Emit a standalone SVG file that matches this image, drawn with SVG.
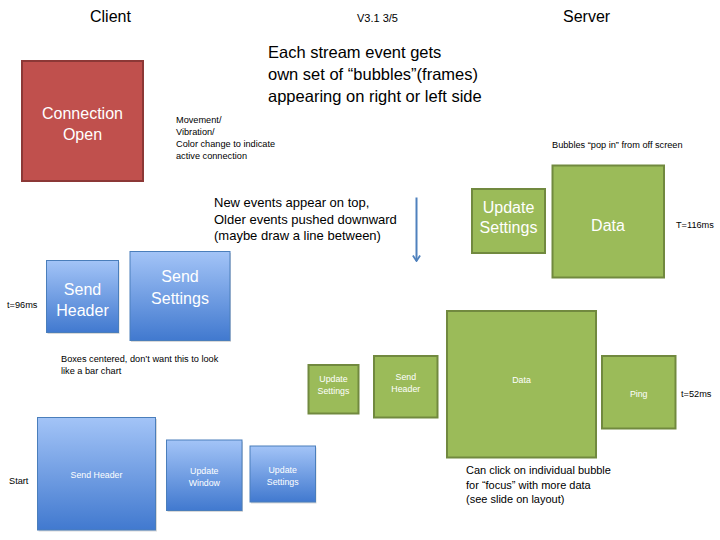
<svg xmlns="http://www.w3.org/2000/svg" width="720" height="540" viewBox="0 0 720 540">
<defs>
<linearGradient id="blueGrad" x1="0" y1="0" x2="0" y2="1">
<stop offset="0" stop-color="#a3c4f7"/>
<stop offset="1" stop-color="#4179cf"/>
</linearGradient>
<marker id="arrowHead" viewBox="0 0 10 10" refX="9" refY="5" markerWidth="9" markerHeight="9" markerUnits="userSpaceOnUse" orient="auto">
<path d="M3,1 L9,5 L3,9" fill="none" stroke="#4f81bd" stroke-width="2"/>
</marker>
</defs>
<style>
text{font-family:"Liberation Sans",Arial,sans-serif;fill:#000}
.title{font-size:16px}
.note{font-size:9.2px}
.mid{font-size:13px}
.mid2{font-size:11px}
.big{font-size:16.5px}
.lbl{font-size:16px;fill:#fff;text-anchor:middle}
.slbl{font-size:8.8px;fill:#fff;text-anchor:middle}
.red{fill:#c0504d;stroke:#8c3836;stroke-width:2}
.green{fill:#9bbb59;stroke:#71893f;stroke-width:2}
.blue{fill:url(#blueGrad);stroke:#4a7ebb;stroke-width:1}
.shadow{fill:#000;opacity:0.15}
.conn{stroke:#4f81bd;stroke-width:2;fill:none}
</style>
<rect width="720" height="540" fill="#fff"/>

<g id="labels">
<text class="title" x="90" y="22">Client</text>
<text x="357" y="22" style="font-size:11px">V3.1 3/5</text>
<text class="title" x="563" y="22">Server</text>
<text class="big" x="268" y="58">Each stream event gets</text>
<text class="big" x="268" y="80">own set of “bubbles”(frames)</text>
<text class="big" x="268" y="101.5">appearing on right or left side</text>
<text class="note" x="176" y="122.5">Movement/</text>
<text class="note" x="176" y="134.5">Vibration/</text>
<text class="note" x="176" y="146.5">Color change to indicate</text>
<text class="note" x="176" y="158.5">active connection</text>
<text class="note" x="552" y="148">Bubbles “pop in” from off screen</text>
<text class="mid" x="214" y="207">New events appear on top,</text>
<text class="mid" x="214" y="223.5">Older events pushed downward</text>
<text class="mid" x="214" y="240">(maybe draw a line between)</text>
<text class="note" x="676" y="228">T=116ms</text>
<text class="note" x="7" y="308">t=96ms</text>
<text class="note" x="61" y="362">Boxes centered, don’t want this to look</text>
<text class="note" x="61" y="374">like a bar chart</text>
<text class="note" x="681" y="397">t=52ms</text>
<text class="mid2" x="466" y="474">Can click on individual bubble</text>
<text class="mid2" x="466" y="488.5">for “focus” with more data</text>
<text class="mid2" x="466" y="503">(see slide on layout)</text>
<text class="note" x="9" y="484">Start</text>
</g>

<g id="connection-open">
<rect class="red" x="22" y="61" width="121" height="120"/>
<text class="lbl" x="82.5" y="118.5">Connection</text>
<text class="lbl" x="82.5" y="139.5">Open</text>
</g>

<g id="srv-update-settings-top">
<rect class="green" x="472" y="189" width="73" height="64"/>
<text class="lbl" x="508.5" y="212.5">Update</text>
<text class="lbl" x="508.5" y="232.5">Settings</text>
</g>

<g id="srv-data-top">
<rect class="green" x="552.5" y="165.5" width="111.5" height="112"/>
<text class="lbl" x="608" y="230.5">Data</text>
</g>

<g id="cli-send-header-mid">
<rect class="shadow" x="47.5" y="262" width="72" height="72"/>
<rect class="blue" x="46.5" y="260.5" width="72" height="72"/>
<text class="lbl" x="82.5" y="294.5">Send</text>
<text class="lbl" x="82.5" y="315.5">Header</text>
</g>

<g id="cli-send-settings">
<rect class="shadow" x="131" y="253" width="100" height="89"/>
<rect class="blue" x="130" y="251.5" width="100" height="89"/>
<text class="lbl" x="180" y="282">Send</text>
<text class="lbl" x="180" y="303.5">Settings</text>
</g>

<g id="srv-update-settings-small">
<rect class="green" x="308.5" y="365" width="50" height="48.5"/>
<text class="slbl" x="333.5" y="382">Update</text>
<text class="slbl" x="333.5" y="394">Settings</text>
</g>

<g id="srv-send-header-small">
<rect class="green" x="374" y="356" width="63.5" height="61.5"/>
<text class="slbl" x="405.8" y="380">Send</text>
<text class="slbl" x="405.8" y="392">Header</text>
</g>

<g id="srv-data-big">
<rect class="green" x="447" y="311" width="149" height="146.5"/>
<text class="slbl" x="521.5" y="383">Data</text>
</g>

<g id="srv-ping">
<rect class="green" x="602" y="356" width="73.5" height="72.5"/>
<text class="slbl" x="638.7" y="397">Ping</text>
</g>

<g id="cli-send-header-start">
<rect class="shadow" x="38.5" y="419" width="118.5" height="112.5"/>
<rect class="blue" x="37.5" y="417.5" width="118" height="112.5"/>
<text class="slbl" x="96.5" y="478">Send Header</text>
</g>

<g id="cli-update-window">
<rect class="shadow" x="167.5" y="441.5" width="75.5" height="70.5"/>
<rect class="blue" x="166.5" y="440" width="75.5" height="70.5"/>
<text class="slbl" x="204.3" y="474">Update</text>
<text class="slbl" x="204.3" y="486">Window</text>
</g>

<g id="cli-update-settings">
<rect class="shadow" x="251" y="447.5" width="65.5" height="56"/>
<rect class="blue" x="250" y="446" width="65.5" height="56"/>
<text class="slbl" x="282.7" y="473">Update</text>
<text class="slbl" x="282.7" y="485">Settings</text>
</g>

<g id="connectors">
<line class="conn" x1="416.5" y1="197.5" x2="416.5" y2="261" marker-end="url(#arrowHead)"/>
</g>
</svg>
